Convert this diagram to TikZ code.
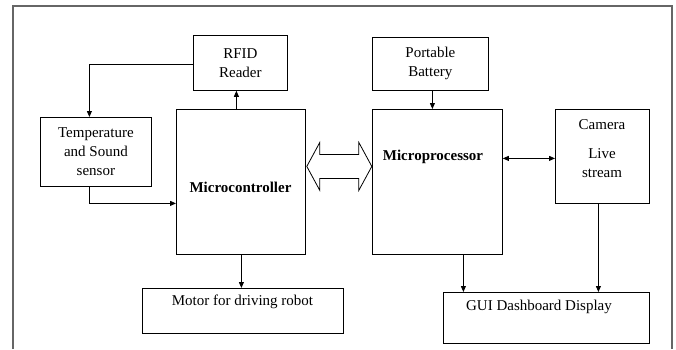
\documentclass[tikz,border=0pt]{standalone}
\usepackage{fontspec}
\setmainfont{Liberation Serif}
\usetikzlibrary{arrows.meta,calc}

\tikzset{
  box/.style={draw, line width=0.8pt, inner sep=0pt, anchor=north west, align=center,
              font=\fontsize{15}{19}\selectfont},
  lbl/.style={inner sep=0pt, align=center, font=\fontsize{15}{19}\selectfont},
  blbl/.style={lbl, font=\fontsize{15}{19}\selectfont\bfseries},
  link/.style={line width=0.8pt, -{Triangle[length=6pt,width=5pt]}},
  duplex/.style={line width=0.8pt, {Triangle[length=6pt,width=5pt]}-{Triangle[length=6pt,width=5pt]}},
  frame/.style={line width=1.6pt, draw=black!60}
}

\begin{document}
\begin{tikzpicture}[x=1pt, y=-1pt]
  \useasboundingbox (0,0) rectangle (676,349);

  % outer frame (open at the bottom)
  \draw[frame] (13,349) -- (13,6) -- (672,6) -- (672,349);

  % left side: controller and its peripherals
  \node[box, minimum width=94pt,  minimum height=55pt]  (rfid)  at (193,35)  {RFID\\Reader};
  \node[box, minimum width=111pt, minimum height=69pt]  (temp)  at (40,117)  {Temperature\\and Sound\\sensor};
  \node[box, minimum width=129pt, minimum height=145pt] (mc)    at (176,109) {};
  \node[blbl] (mctext) at (240.5,187) {Microcontroller};
  \node[box, minimum width=201pt, minimum height=45pt]  (motor) at (142,288) {};
  \node[lbl] (motortext) at (242.5,302) {Motor for driving robot};

  % right side: processor and its peripherals
  \node[box, minimum width=116pt, minimum height=53pt]  (batt)  at (372,37)  {Portable\\Battery};
  \node[box, minimum width=130pt, minimum height=145pt] (mp)    at (372,109) {};
  \node[blbl] (mptext) at (433,157) {Microprocessor};
  \node[box, minimum width=94pt,  minimum height=94pt]  (cam)   at (555,109) {};
  \node[lbl] (camtext) at (602,125) {Camera};
  \node[lbl] (livetext) at (602,163) {Live\\stream};
  \node[box, minimum width=206pt, minimum height=51pt]  (gui)   at (443,292) {};
  \node[lbl] (guitext) at (539,307) {GUI Dashboard Display};

  % connectors
  \draw[link] ([xshift=-4.5pt]mc.north) -- ([xshift=-4.5pt]mc.north |- rfid.south);
  \draw[link] ([yshift=-1.5pt]rfid.west) -| ([xshift=-6.5pt]temp.north);
  \draw[link] ([xshift=-6.5pt]temp.south) |- ($(mc.west)+(0,21.5)$);
  \draw[link] ([xshift=0.5pt]mc.south) -- ([xshift=0.5pt]mc.south |- motor.north);
  \draw[link] ([xshift=2pt]batt.south) -- ([xshift=2pt]batt.south |- mp.north);
  \draw[duplex] ($(mp.east)+(0,-23.5)$) -- ($(cam.west)+(0,2)$);
  \draw[link] ([xshift=26pt]mp.south) -- ([xshift=26pt]mp.south |- gui.north);
  \draw[link] ([xshift=-4pt]cam.south) -- ([xshift=-4pt]cam.south |- gui.north);

  % hollow two-way bus arrow between the two processors
  \draw[line width=0.8pt, fill=white]
    ($(mc.east)+(1,-15.5)$) -- ++(13,-24) -- ++(0,12) -- ++(39,0) -- ++(0,-12)
    -- ++(13,24) -- ++(-13,24) -- ++(0,-12) -- ++(-39,0) -- ++(0,12) -- cycle;
\end{tikzpicture}
\end{document}
